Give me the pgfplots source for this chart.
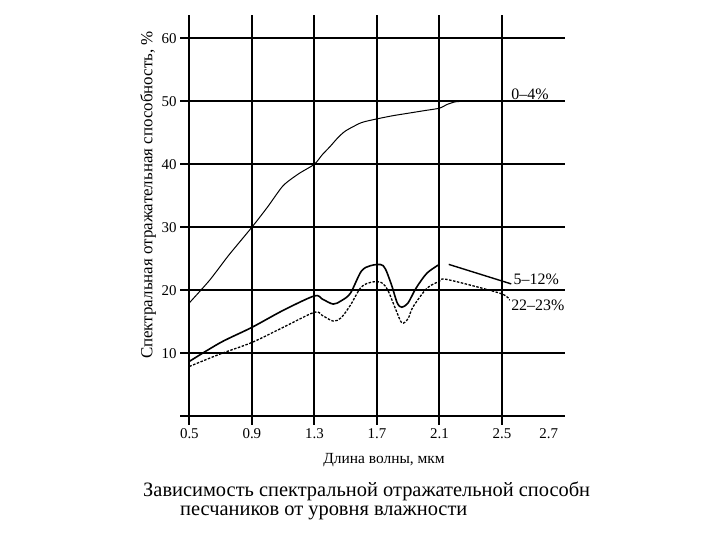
\documentclass[border=0pt]{standalone}
\usepackage{fontspec}
\setmainfont{Liberation Serif}
\usepackage{pgfplots}
\pgfplotsset{compat=1.18}
\begin{document}
\begin{tikzpicture}[x=1bp,y=1bp]
\useasboundingbox[fill=white] (0,0) rectangle (720,540);
\begin{axis}[
  at={(180bp,115bp)}, anchor=south west,
  scale only axis, width=385bp, height=410bp,
  xmin=0.44, xmax=2.904, ymin=-1.4, ymax=63.7,
  axis line style={draw=none},
  major tick length=0pt,
  xtick={0.5,0.9,1.3,1.7,2.1,2.5},
  xticklabels={0.5,0.9,1.3,1.7,2.1,2.5},
  extra x ticks={2.8}, extra x tick labels={2.7},
  extra x tick style={grid=none},
  ytick={0,10,20,30,40,50,60},
  yticklabels={,10,20,30,40,50,60},
  grid=major,
  major grid style={black, line width=1.8bp},
  /pgf/number format/assume math mode=true,
  tick label style={font=\fontsize{15}{17}\selectfont},
  xlabel={Длина волны, мкм},
  ylabel={Спектральная отражательная способность, \%},
  xlabel style={font=\fontsize{15.5}{17}\selectfont, at={(axis description cs:0.53,0)}, anchor=center, yshift=-35bp},
  ylabel style={font=\fontsize{17}{19}\selectfont, at={(axis description cs:-0.083,0.561)}, anchor=center},
  clip=false,
]
\addplot[black, line width=1bp, smooth, tension=0.4] coordinates {
(0.5,18) (0.63,21.6) (0.75,25.5) (0.9,30) (1.0,33.2) (1.1,36.6) (1.2,38.5)
(1.3,40) (1.35,41.5) (1.4,42.8) (1.45,44.2) (1.5,45.3) (1.6,46.6) (1.7,47.2)
(1.8,47.7) (1.9,48.1) (2.0,48.5) (2.1,48.9) (2.15,49.5) (2.2,49.9) (2.25,50)};
\addplot[black, line width=1.6bp, smooth, tension=0.5] coordinates {
(0.5,8.7) (0.7,11.7) (0.9,14.1) (1.1,16.8) (1.3,19.1) (1.35,18.6) (1.42,17.8)
(1.47,18.3) (1.53,19.5) (1.6,23.0) (1.66,23.9) (1.74,23.9) (1.79,21.1)
(1.83,18) (1.86,17.3) (1.9,18) (1.95,20.3) (2.02,22.7) (2.1,24.1)};
\addplot[black, line width=1.4bp] coordinates {(2.16,24.1) (2.56,21.0)};
\addplot[black, line width=1.3bp, dash pattern=on 2.5bp off 1.5bp, smooth, tension=0.5] coordinates {
(0.5,7.9) (0.7,9.9) (0.9,11.7) (1.1,14.1) (1.3,16.5) (1.35,16) (1.42,15.1)
(1.47,15.6) (1.53,17.6) (1.6,20.5) (1.67,21.3) (1.73,21.2) (1.77,20)
(1.82,17) (1.86,14.8) (1.9,15.5) (1.93,17.3) (2.02,20.3) (2.1,21.4)
(2.15,21.7) (2.49,19.5) (2.55,18.4)};
\node[font=\fontsize{16}{18}\selectfont] at (axis cs:2.68,51.1) {0–4\%};
\node[font=\fontsize{16}{18}\selectfont, fill=white, inner sep=1bp] at (axis cs:2.72,21.7) {5–12\%};
\node[font=\fontsize{16}{18}\selectfont, fill=white, inner sep=1bp] at (axis cs:2.73,17.6) {22–23\%};
\end{axis}
\node[font=\fontsize{20.5}{22}\selectfont, anchor=base west, inner sep=0pt] at (143,43) {Зависимость спектральной отражательной способн};
\node[font=\fontsize{20.5}{22}\selectfont, anchor=base west, inner sep=0pt] at (180,24) {песчаников от уровня влажности};
\end{tikzpicture}
\end{document}
